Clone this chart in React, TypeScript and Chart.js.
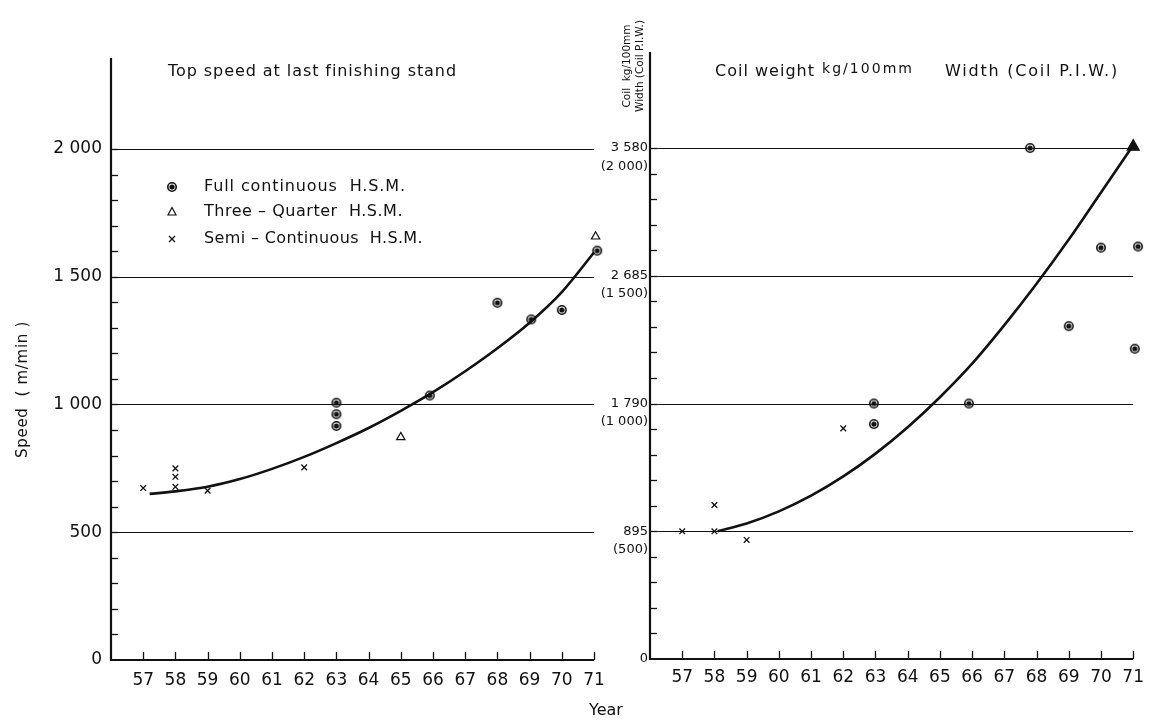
import React, { useEffect, useRef } from 'react';
import { Chart, registerables } from 'chart.js';

Chart.register(...registerables);

const INK = '#111111';
const FONT = '"DejaVu Sans", sans-serif';

// shared x axis (year, 19xx)
const years = [57, 58, 59, 60, 61, 62, 63, 64, 65, 66, 67, 68, 69, 70, 71];
const yearMin = 56;
const yearMax = 71;

// ---- left panel: top speed at last finishing stand (m/min)
const speedTickValues = [0, 500, 1000, 1500, 2000];
const speedTickLabels = ['0', '500', '1 000', '1 500', '2 000'];
const speedMax = 2356;
const speedMinorStep = 100;

const speedFullYear = [63, 63, 63, 65.9, 68, 69.05, 70, 71.1];
const speedFullValue = [1007, 962, 916, 1035, 1398, 1333, 1370, 1602];
const speedThreeQYear = [65, 71.05];
const speedThreeQValue = [872, 1657];
const speedSemiYear = [57, 58, 58, 58, 59, 62];
const speedSemiValue = [673, 750, 717, 678, 663, 754];
const speedCurveYear = [57.2, 58, 59, 60, 61, 62, 63, 64, 65, 66, 67, 68, 69, 70, 71];
const speedCurveValue = [650, 660, 678, 708, 748, 795, 849, 908, 975, 1048, 1130, 1220, 1320, 1440, 1595];

// ---- right panel: coil weight kg/100 mm width (coil P.I.W.)
const coilTickValues = [0, 895, 1790, 2685, 3580];
const coilTickLabels = ['0', '895', '1 790', '2 685', '3 580'];
const coilTickSubLabels = ['', '(500)', '(1 000)', '(1 500)', '(2 000)'];
const coilMax = 4253;
const coilMinorStep = 179;

const coilFullYear = [62.95, 62.95, 65.9, 67.8, 69, 70, 71.15, 71.05];
const coilFullValue = [1790, 1646, 1790, 3580, 2332, 2882, 2890, 2174];
const coilThreeQYear = [71];
const coilThreeQValue = [3590];
const coilSemiYear = [57, 58, 58, 59, 62];
const coilSemiValue = [895, 895, 1079, 834, 1616];
const coilCurveYear = [58.1, 59, 60, 61, 62, 63, 64, 65, 66, 67, 68, 69, 70, 71];
const coilCurveValue = [895, 949, 1034, 1144, 1279, 1439, 1624, 1834, 2069, 2339, 2629, 2939, 3269, 3600];

const legendLabels = ['Full continuous  H.S.M.', 'Three \u2013 Quarter  H.S.M.', 'Semi \u2013 Continuous  H.S.M.'];
const legendWidths = [202, 199, 219];

function zip(xs: number[], ys: number[]) {
  return xs.map((x, i) => ({ x, y: ys[i] }));
}

function makeRing(): HTMLCanvasElement {
  const c = document.createElement('canvas');
  c.width = 12;
  c.height = 12;
  const g = c.getContext('2d')!;
  g.strokeStyle = INK;
  g.lineWidth = 1.6;
  g.beginPath();
  g.arc(6, 6, 4.2, 0, Math.PI * 2);
  g.stroke();
  g.fillStyle = INK;
  g.beginPath();
  g.arc(6, 6, 2.6, 0, Math.PI * 2);
  g.fill();
  return c;
}

// draw text stretched with letter spacing to a target width
function spacedText(ctx: CanvasRenderingContext2D, text: string, x: number, y: number, target: number) {
  const anyCtx = ctx as any;
  anyCtx.letterSpacing = '0px';
  const natural = ctx.measureText(text).width;
  const ls = Math.max(0, (target - natural) / text.length);
  anyCtx.letterSpacing = `${ls}px`;
  ctx.fillText(text, x, y);
  anyCtx.letterSpacing = '0px';
}

type FrameCfg = {
  gridValues: number[];
  minorStep: number;
  minorCount: number;
  extra?: (chart: any, ctx: CanvasRenderingContext2D) => void;
};

function framePlugin(cfg: FrameCfg) {
  return {
    id: 'frame',
    beforeDatasetsDraw(chart: any) {
      const ctx: CanvasRenderingContext2D = chart.ctx;
      const { left, right, top, bottom } = chart.chartArea;
      const xs = chart.scales.x;
      const ys = chart.scales.y;
      ctx.save();
      ctx.strokeStyle = INK;
      ctx.lineWidth = 1.2;
      cfg.gridValues.forEach((v) => {
        if (!v) return;
        const y = Math.round(ys.getPixelForValue(v)) + 0.5;
        ctx.beginPath();
        ctx.moveTo(left, y);
        ctx.lineTo(right, y);
        ctx.stroke();
      });
      ctx.lineWidth = 2.2;
      ctx.beginPath();
      ctx.moveTo(left, top);
      ctx.lineTo(left, bottom);
      ctx.lineTo(right, bottom);
      ctx.stroke();
      ctx.lineWidth = 1.3;
      for (let i = 1; i <= cfg.minorCount; i++) {
        const y = Math.round(ys.getPixelForValue(i * cfg.minorStep)) + 0.5;
        ctx.beginPath();
        ctx.moveTo(left, y);
        ctx.lineTo(left + 7, y);
        ctx.stroke();
      }
      years.forEach((yr) => {
        const x = Math.round(xs.getPixelForValue(yr)) + 0.5;
        ctx.beginPath();
        ctx.moveTo(x, bottom);
        ctx.lineTo(x, bottom - 8);
        ctx.stroke();
      });
      ctx.restore();
    },
    afterDraw(chart: any) {
      const ctx: CanvasRenderingContext2D = chart.ctx;
      ctx.save();
      ctx.fillStyle = INK;
      ctx.strokeStyle = INK;
      if (cfg.extra) cfg.extra(chart, ctx);
      ctx.restore();
    },
  };
}

function baseOptions(yMax: number, yWidth: number, xHeight: number, yTickValues: number[], yLabel: (i: number) => any, yFontSize: number, yPad: number, xPad: number, padding: any) {
  return {
    responsive: false,
    animation: false,
    layout: { padding },
    plugins: { legend: { display: false }, tooltip: { enabled: false } },
    scales: {
      x: {
        type: 'linear',
        min: yearMin,
        max: yearMax,
        afterBuildTicks: (s: any) => {
          s.ticks = years.map((v) => ({ value: v }));
        },
        afterFit: (s: any) => {
          s.height = xHeight;
        },
        ticks: {
          autoSkip: false,
          maxRotation: 0,
          padding: xPad,
          color: INK,
          font: { family: FONT, size: 17 },
          callback: (v: any) => String(v),
        },
        grid: { display: false, drawTicks: false },
        border: { display: false },
      },
      y: {
        type: 'linear',
        min: 0,
        max: yMax,
        afterBuildTicks: (s: any) => {
          s.ticks = yTickValues.map((v) => ({ value: v }));
        },
        afterFit: (s: any) => {
          s.width = yWidth;
        },
        ticks: {
          autoSkip: false,
          padding: yPad,
          color: INK,
          font: { family: FONT, size: yFontSize, lineHeight: 1.4 },
          callback: (_v: any, i: number) => yLabel(i),
        },
        grid: { display: false, drawTicks: false },
        border: { display: false },
      },
    },
  };
}

function datasets(ring: HTMLCanvasElement, full: any[], threeQ: any[], semi: any[], curve: any[], filledTri: boolean) {
  return [
    {
      label: 'Full continuous H.S.M.',
      data: full,
      pointStyle: ring,
      pointRadius: 5,
      clip: false,
      showLine: false,
    },
    {
      label: 'Three-Quarter H.S.M.',
      data: threeQ,
      pointStyle: 'triangle',
      pointRadius: filledTri ? 7 : 4.8,
      borderColor: INK,
      backgroundColor: filledTri ? INK : '#ffffff',
      borderWidth: 1.2,
      clip: false,
      showLine: false,
    },
    {
      label: 'Semi-Continuous H.S.M.',
      data: semi,
      pointStyle: 'crossRot',
      pointRadius: 4,
      borderColor: INK,
      borderWidth: 1.3,
      clip: false,
      showLine: false,
    },
    {
      label: 'trend',
      data: curve,
      showLine: true,
      pointRadius: 0,
      borderColor: INK,
      borderWidth: 2.6,
      cubicInterpolationMode: 'monotone',
      fill: false,
      clip: false,
    },
  ];
}

export default function App() {
  const leftRef = useRef<HTMLCanvasElement>(null);
  const rightRef = useRef<HTMLCanvasElement>(null);

  useEffect(() => {
    const ring = makeRing();

    const leftExtra = (chart: any, ctx: CanvasRenderingContext2D) => {
      ctx.textBaseline = 'middle';
      ctx.textAlign = 'left';
      ctx.font = `16px ${FONT}`;
      spacedText(ctx, 'Top speed at last finishing stand', 168, 72, 289);
      // legend
      const lx = 172;
      const rows = [187, 212, 239];
      ctx.drawImage(ring, lx - 6, rows[0] - 6);
      ctx.lineWidth = 1.2;
      ctx.beginPath();
      ctx.moveTo(lx, rows[1] - 4.5);
      ctx.lineTo(lx + 4, rows[1] + 3);
      ctx.lineTo(lx - 4, rows[1] + 3);
      ctx.closePath();
      ctx.stroke();
      ctx.lineWidth = 1.3;
      ctx.beginPath();
      ctx.moveTo(lx - 3, rows[2] - 3);
      ctx.lineTo(lx + 3, rows[2] + 3);
      ctx.moveTo(lx + 3, rows[2] - 3);
      ctx.lineTo(lx - 3, rows[2] + 3);
      ctx.stroke();
      ctx.font = `16px ${FONT}`;
      legendLabels.forEach((t, i) => spacedText(ctx, t, 204, rows[i], legendWidths[i]));
      // y title
      ctx.save();
      ctx.translate(23, 390);
      ctx.rotate(-Math.PI / 2);
      ctx.textAlign = 'left';
      ctx.font = `15px ${FONT}`;
      spacedText(ctx, 'Speed  ( m/min )', -68, 0, 137);
      ctx.restore();
    };

    const rightExtra = (chart: any, ctx: CanvasRenderingContext2D) => {
      const ox = 580;
      ctx.textBaseline = 'middle';
      ctx.textAlign = 'left';
      ctx.font = `16px ${FONT}`;
      spacedText(ctx, 'Coil weight', 715 - ox, 72, 100);
      ctx.font = `14px ${FONT}`;
      spacedText(ctx, 'kg/100mm', 822 - ox, 69, 92);
      ctx.font = `16px ${FONT}`;
      spacedText(ctx, 'Width (Coil P.I.W.)', 945 - ox, 72, 174);
      // rotated axis title
      ctx.save();
      ctx.translate(627 - ox, 66);
      ctx.rotate(-Math.PI / 2);
      ctx.textAlign = 'center';
      ctx.font = `10.5px ${FONT}`;
      ctx.fillText('Coil  kg/100mm', 0, 0);
      ctx.fillText('Width (Coil P.I.W.)', 0, 13);
      ctx.restore();
      // shared x title
      ctx.textAlign = 'center';
      ctx.font = `16px ${FONT}`;
      ctx.fillText('Year', 606 - ox, 711);
    };

    const left = new Chart(leftRef.current!, {
      type: 'scatter',
      data: {
        datasets: datasets(
          ring,
          zip(speedFullYear, speedFullValue),
          zip(speedThreeQYear, speedThreeQValue),
          zip(speedSemiYear, speedSemiValue),
          zip(speedCurveYear, speedCurveValue),
          false
        ) as any,
      },
      options: baseOptions(
        speedMax,
        111,
        60,
        speedTickValues,
        (i) => speedTickLabels[i],
        17,
        9,
        10,
        { left: 0, top: 58, right: 26, bottom: 0 }
      ) as any,
      plugins: [framePlugin({ gridValues: speedTickValues, minorStep: speedMinorStep, minorCount: 20, extra: leftExtra })],
    });

    const right = new Chart(rightRef.current!, {
      type: 'scatter',
      data: {
        datasets: datasets(
          ring,
          zip(coilFullYear, coilFullValue),
          zip(coilThreeQYear, coilThreeQValue),
          zip(coilSemiYear, coilSemiValue),
          zip(coilCurveYear, coilCurveValue),
          true
        ) as any,
      },
      options: baseOptions(
        coilMax,
        70,
        61,
        coilTickValues,
        (i) => (i === 0 ? coilTickLabels[0] : ['', coilTickLabels[i], coilTickSubLabels[i]]),
        13,
        2,
        8,
        { left: 0, top: 52, right: 11, bottom: 0 }
      ) as any,
      plugins: [framePlugin({ gridValues: coilTickValues, minorStep: coilMinorStep, minorCount: 20, extra: rightExtra })],
    });

    return () => {
      left.destroy();
      right.destroy();
    };
  }, []);

  return (
    <div style={{ position: 'fixed', left: 0, top: 0, width: 1152, height: 720, background: '#ffffff', overflow: 'hidden' }}>
      <canvas ref={leftRef} width={620} height={720} style={{ position: 'absolute', left: 0, top: 0, width: 620, height: 720 }} />
      <canvas ref={rightRef} width={572} height={720} style={{ position: 'absolute', left: 580, top: 0, width: 572, height: 720 }} />
    </div>
  );
}
